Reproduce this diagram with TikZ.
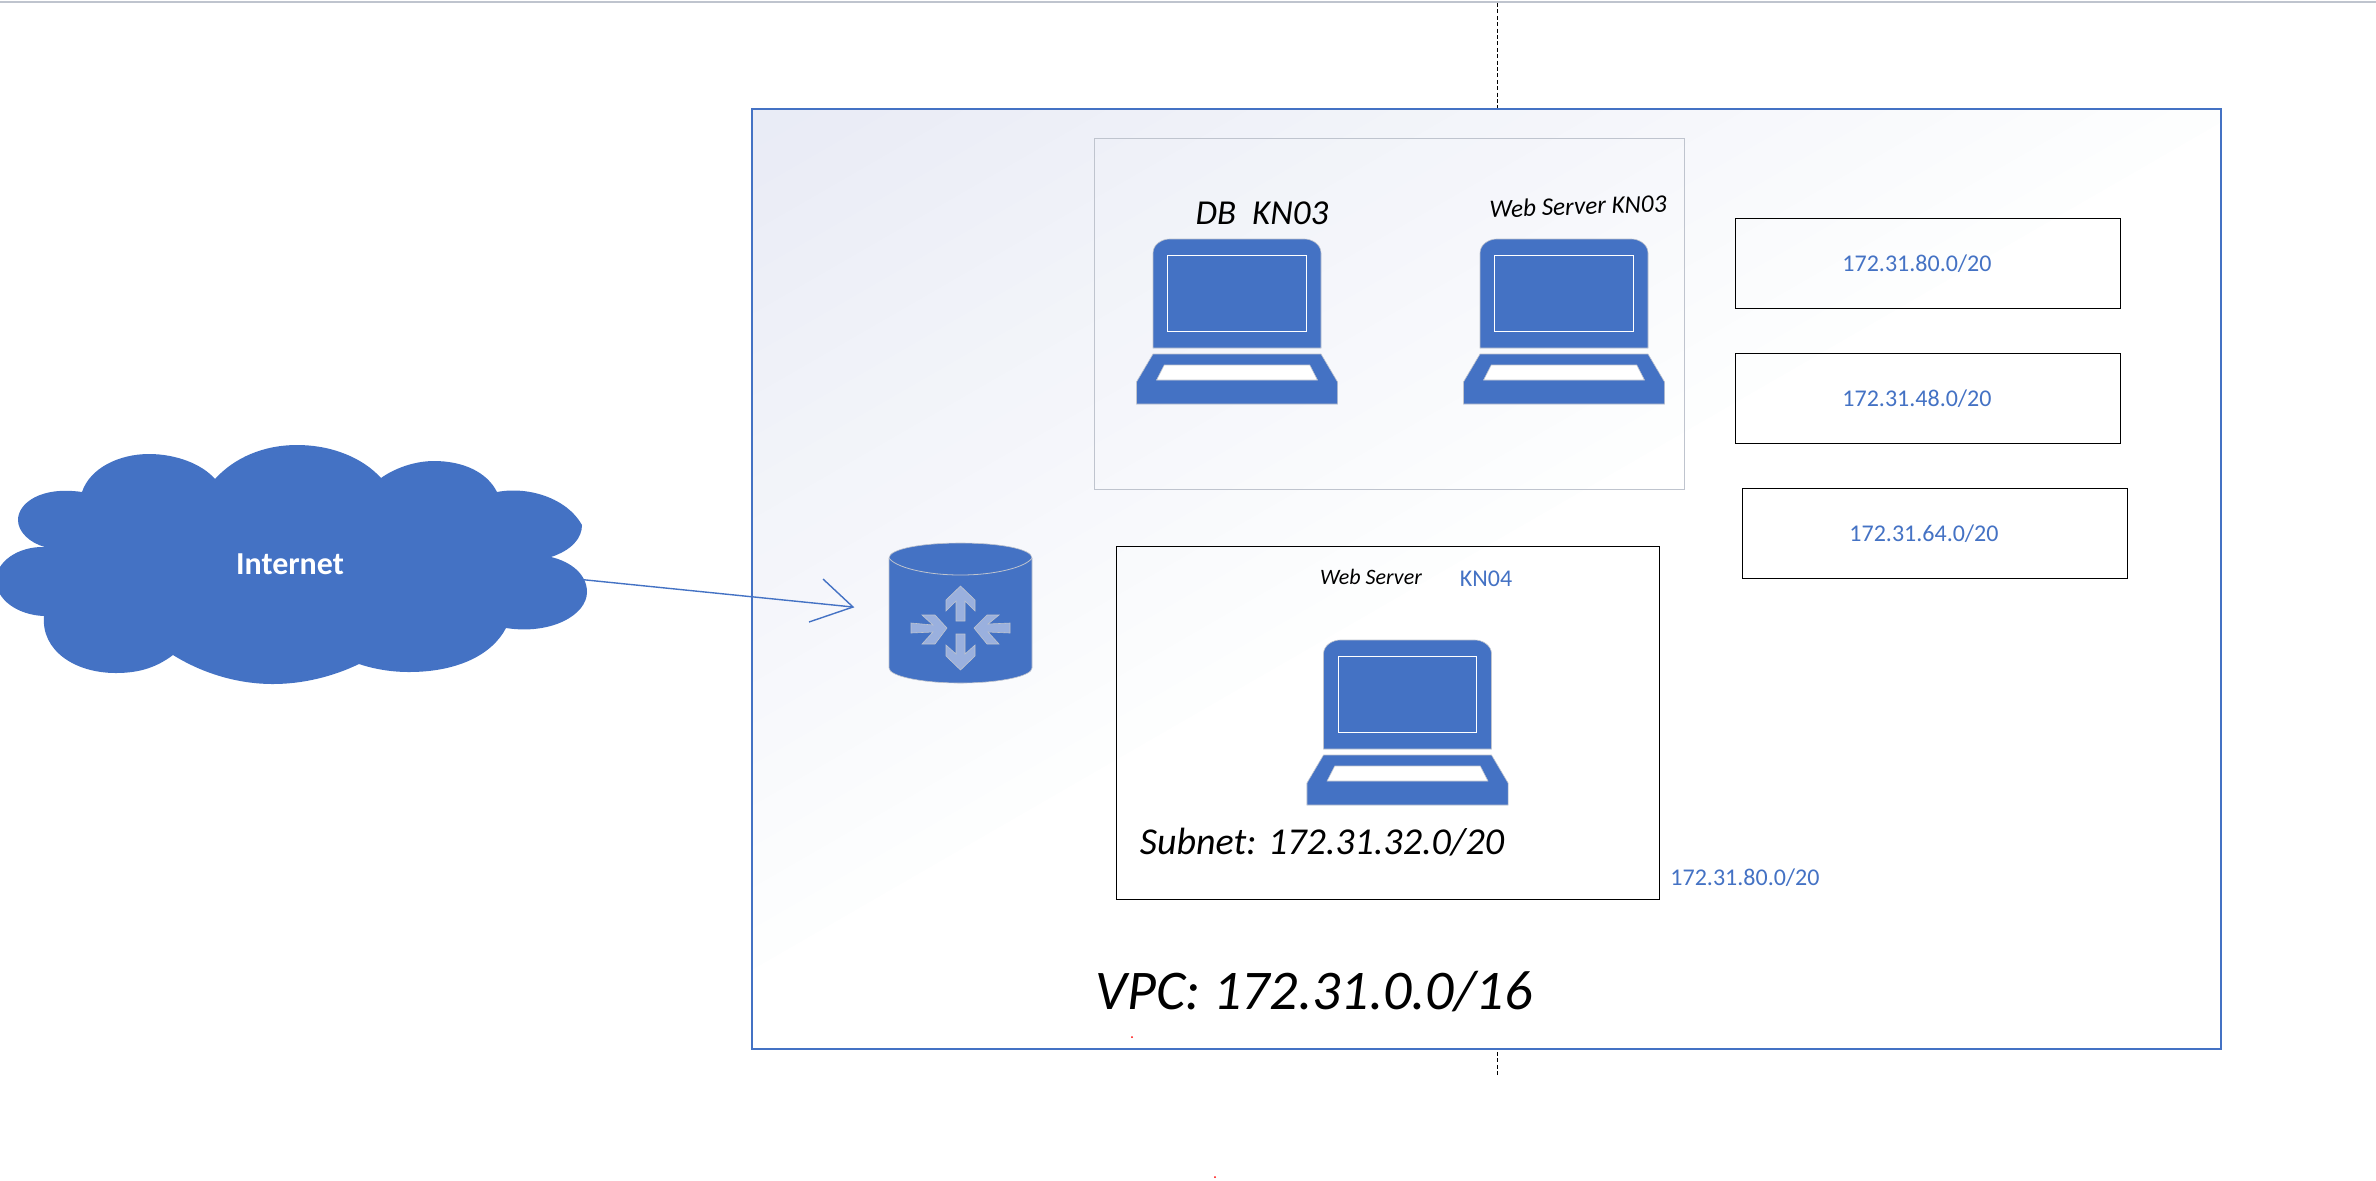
\documentclass[tikz,border=0pt]{standalone}
\usepackage{fontspec}
\setmainfont{Carlito}
\definecolor{ppblue}{HTML}{4472C4}
\definecolor{edgegray}{HTML}{BFC4CE}
\definecolor{arrowblue}{HTML}{9AB0DE}
\newcommand{\laptopicon}[2]{%
  \begin{scope}[shift={(#1,#2)},xscale=1.183]
    \path[iconfill] (-71,109) -- (-71,14) .. controls (-71,5) and (-63,0) .. (-57,0) -- (57,0) .. controls (63,0) and (71,5) .. (71,14) -- (71,109) -- cycle;
    \draw[white,line width=0.5pt] (-58.5,16) rectangle (58.5,92);
    \path[iconfill] (-71,115) -- (71,115) -- (85,143) -- (85,165) -- (-85,165) -- (-85,143) -- cycle;
    \path[keyfill] (-61.5,126) -- (61.5,126) -- (68,141) -- (-68,141) -- cycle;
  \end{scope}}
\tikzset{
  x=0.5pt,y=-0.5pt,
  iconfill/.style={fill=ppblue,draw=edgegray,line width=0.3pt},
  keyfill/.style={fill=white,draw=edgegray,line width=0.3pt},
  subnetbox/.style={draw=black,line width=0.5pt},
  netlabel/.style={text=ppblue,font=\fontsize{12}{14}\selectfont,inner sep=0pt},
  hand/.style={text=black,font=\itshape,inner sep=0pt},
  flowline/.style={draw=ppblue,line width=0.7pt},
  guide/.style={draw=black,line width=0.6pt,dash pattern=on 2pt off 1.2pt},
  router arrow/.style={fill=arrowblue,draw=edgegray,line width=0.3pt},
}
\begin{document}
\begin{tikzpicture}
\useasboundingbox (0,0) rectangle (2376,1180);
\fill[white] (0,0) rectangle (2376,1180);
% top rule and dashed guide
\draw[edgegray,line width=0.7pt] (0,2) -- (2376,2);
\coordinate (gtA) at (1497.5,3);
\coordinate (gtB) at (1497.5,108);
\coordinate (gbA) at (1497.5,1052);
\coordinate (gbB) at (1497.5,1075);
\draw[guide] (gtA) -- (gtB);
\draw[guide] (gbA) -- (gbB);
% VPC gradient
\begin{scope}
  \clip (752,109) rectangle (2221,1049);
  \fill[white] (752,109) rectangle (2221,1049);
  \foreach \i in {0,...,21}{
    \pgfmathtruncatemacro\cr{233+22*\i/21}
    \pgfmathtruncatemacro\cg{236+19*\i/21}
    \pgfmathtruncatemacro\cb{246+9*\i/21}
    \definecolor{bandc}{RGB}{\cr,\cg,\cb}
    \pgfmathsetmacro\d{\i*35.5}
    \pgfmathsetmacro\ax{752+0.5*\d}
    \pgfmathsetmacro\ay{109+0.866*\d}
    \fill[bandc] (\ax-2600,\ay+1500) -- (\ax+2600,\ay-1500) -- (\ax+2600+1000,\ay-1500+1732) -- (\ax-2600+1000,\ay+1500+1732) -- cycle;
  }
\end{scope}
\draw[ppblue,line width=0.75pt] (752,109) rectangle (2221,1049);
% inner boxes
\draw[edgegray,line width=0.5pt] (1094,138) rectangle (1684,489);
\draw[subnetbox] (1116,546.5) rectangle (1659,899);
\draw[subnetbox] (1735,218.5) rectangle (2120,308);
\draw[subnetbox] (1735,353.5) rectangle (2120,443.5);
\draw[subnetbox] (1742,488.5) rectangle (2127,578.5);
% laptops
\laptopicon{1237}{239}
\laptopicon{1564}{239}
\laptopicon{1407.5}{640}
% connector
\coordinate (cloudcentre) at (290,550);
\coordinate (routerin) at (853,607);
\coordinate (wingA) at (823,579);
\coordinate (wingB) at (809,622);
\draw[flowline] (cloudcentre) -- (routerin);
\draw[flowline] (wingA) -- (routerin) -- (wingB);
% cloud
\fill[ppblue] (82,492) .. controls (90,468) and (119,454) .. (149,454)
  .. controls (176,454) and (202,464) .. (215,479)
  .. controls (234,458) and (263,445) .. (297,445)
  .. controls (332,445) and (363,458) .. (381,478)
  .. controls (395,468) and (415,461) .. (434,461)
  .. controls (463,461) and (487,472) .. (497,492)
  .. controls (528,486) and (567,498) .. (582,525)
  .. controls (582,538) and (572,550) .. (551,557)
  .. controls (572,562) and (587,575) .. (587,592)
  .. controls (587,615) and (551,635) .. (506,628)
  .. controls (492,655) and (457,672) .. (409,672)
  .. controls (391,672) and (374,669) .. (359,664)
  .. controls (332,677) and (302,684) .. (273,684)
  .. controls (237,684) and (202,673) .. (173,655)
  .. controls (157,667) and (140,673) .. (116,673)
  .. controls (74,673) and (41,650) .. (44,616)
  .. controls (18,615) and (-4,600) .. (-4,580)
  .. controls (-4,562) and (18,546) .. (45,547)
  .. controls (30,543) and (18,532) .. (18,520)
  .. controls (18,503) and (41,486) .. (82,492) -- cycle;
\node[text=white,font=\bfseries\fontsize{16}{18}\selectfont,inner sep=0pt] (internet) at (290,564) {Internet};
% router
\path[iconfill] (889,558) .. controls (889,549) and (921,543) .. (960.5,543)
  .. controls (1000,543) and (1032,549) .. (1032,558)
  -- (1032,668) .. controls (1032,676) and (1000,683) .. (960.5,683)
  .. controls (921,683) and (889,676) .. (889,668) -- cycle;
\draw[edgegray,line width=0.4pt] (889,558) .. controls (895,567) and (925,575) .. (960.5,575)
  .. controls (996,575) and (1026,567) .. (1032,558);
\path[router arrow] (960.5,586) -- (975,600) -- (975,611) -- (965,601) -- (965,621) -- (956,621) -- (956,601) -- (946,611) -- (946,600) -- cycle;
\path[router arrow] (956,634) -- (965,634) -- (965,654) -- (975,645) -- (975,656) -- (960.5,670) -- (946,656) -- (946,645) -- (956,654) -- cycle;
\path[router arrow] (911,623) -- (933,625) -- (922,615) -- (935,615) -- (947,628) -- (935,644) -- (922,644) -- (933,632) -- (911,633) -- cycle;
\path[router arrow] (974,628) -- (987,615) -- (999,615) -- (988,624) -- (1010,623) -- (1010,633) -- (988,632) -- (999,644) -- (987,644) -- cycle;
% blue labels
\node[netlabel] (netA) at (1917,263.5) {172.31.80.0/20};
\node[netlabel] (netB) at (1917,398.5) {172.31.48.0/20};
\node[netlabel] (netC) at (1924,533.5) {172.31.64.0/20};
\node[netlabel] (netD) at (1745,877.5) {172.31.80.0/20};
\node[netlabel] (knfour) at (1486,579) {KN04};
% handwritten labels
\node[hand,font=\itshape\fontsize{17.5}{19}\selectfont] (dblabel) at (1262,213) {DB\ \ KN03};
\node[hand,font=\itshape\fontsize{12.6}{15}\selectfont,rotate=2] (weblabelA) at (1578,206) {Web Server KN03};
\node[hand,font=\itshape\fontsize{11}{13}\selectfont] (weblabelB) at (1371,577) {Web Server};
\node[hand,font=\itshape\fontsize{19}{21}\selectfont] (subnetlabel) at (1322,842) {Subnet: 172.31.32.0/20};
\node[hand,font=\itshape\fontsize{28}{30}\selectfont] (vpclabel) at (1314,992) {VPC: 172.31.0.0/16};
% red specks
\fill[red] (1132,1037) circle (1);
\fill[red] (1215,1177) circle (1);
\end{tikzpicture}
\end{document}
